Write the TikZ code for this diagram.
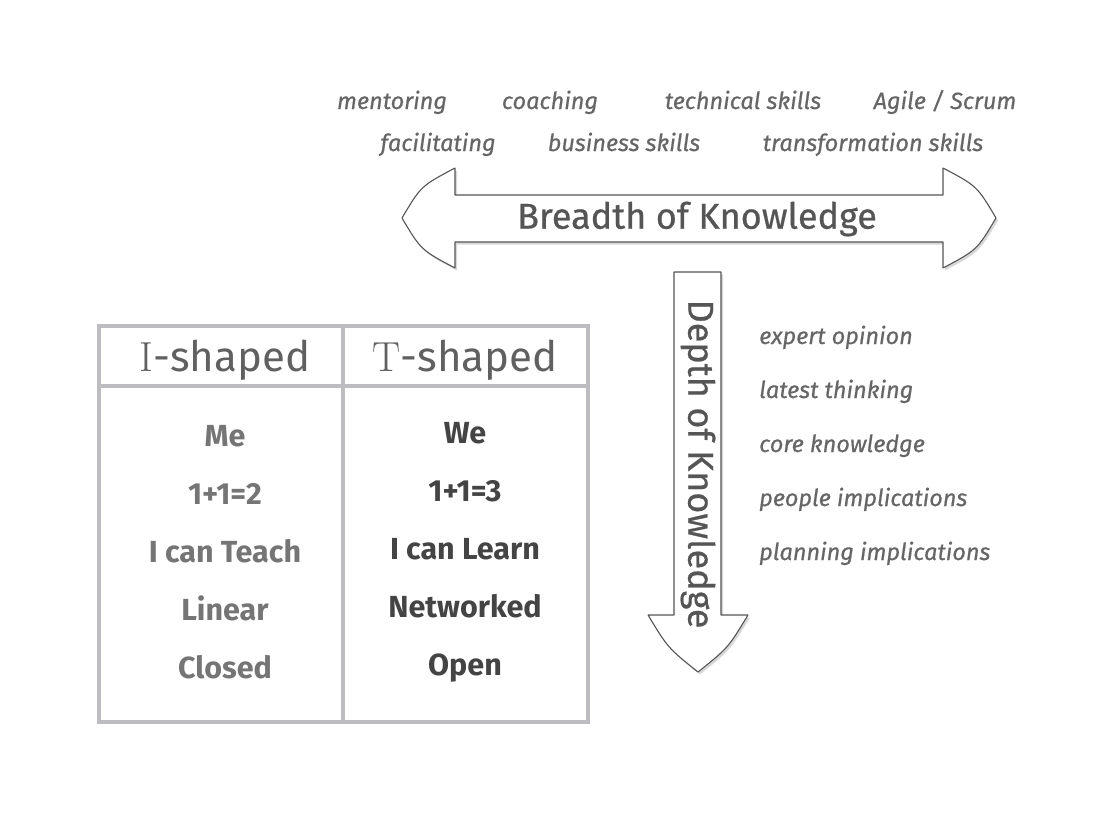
\documentclass[tikz,border=0pt]{standalone}
\usepackage{fontspec}
\newfontfamily\fira{Fira Sans}
\newfontfamily\firamed[FakeBold=0.6]{Fira Sans}
\usetikzlibrary{shadows}
\definecolor{txt}{HTML}{666666}
\definecolor{dark}{HTML}{444444}
\definecolor{tbl}{HTML}{BDBDC1}
\definecolor{arr}{HTML}{555555}
\tikzset{
  topword/.style={font=\firamed\itshape\fontsize{23.5}{27}\selectfont, text=txt, inner sep=0pt, anchor=base},
  sideword/.style={font=\firamed\itshape\fontsize{23.5}{27}\selectfont, text=txt, inner sep=0pt, anchor=base west},
  arrowlabel/.style={font=\firamed\fontsize{36}{40}\selectfont, text=arr, inner sep=0pt},
  leftcell/.style={font=\fira\bfseries\fontsize{30.5}{34}\selectfont, text=txt!90, inner sep=0pt, anchor=base},
  rightcell/.style={font=\fira\bfseries\fontsize{30.5}{34}\selectfont, text=dark, inner sep=0pt, anchor=base},
  header/.style={font=\fontsize{42}{46}\selectfont, text=dark!85, inner sep=0pt, anchor=base},
  bigarrow/.style={draw=arr, line width=1.1pt, fill=white, line join=round,
    drop shadow={opacity=0.3, shadow xshift=2pt, shadow yshift=-2.5pt}},
  tableline/.style={draw=tbl, line width=4pt}
}
\begin{document}
\begin{tikzpicture}[x=1pt,y=-1pt]
\useasboundingbox[fill=white] (0,0) rectangle (1110,816);

% top words
\node[topword] (w1) at (392,109) {mentoring};
\node[topword] (w2) at (550,109) {coaching};
\node[topword] (w3) at (743,109) {technical skills};
\node[topword] (w4) at (945,109) {Agile / Scrum};
\node[topword] (w5) at (438,151) {facilitating};
\node[topword] (w6) at (624,151) {business skills};
\node[topword] (w7) at (873,151) {transformation skills};

% breadth arrow
\path[bigarrow] (455,195) -- (455,168) .. controls (421,186) .. (402,218)
  .. controls (421,250) .. (455,268) -- (455,242) -- (943,242) -- (943,268)
  .. controls (977,250) .. (996,218) .. controls (977,186) .. (943,168)
  -- (943,195) -- cycle;
\node[arrowlabel] (breadth) at (697,219) {Breadth of Knowledge};

% depth arrow
\path[bigarrow] (674,272) -- (721,272) -- (721,615) -- (748,615)
  .. controls (728,648) .. (698,672) .. controls (668,648) .. (648,615)
  -- (674,615) -- cycle;
\node[arrowlabel, rotate=-90] (depth) at (698,464) {Depth of Knowledge};

% side words
\node[sideword] (s1) at (759,344) {expert opinion};
\node[sideword] (s2) at (759,398) {latest thinking};
\node[sideword] (s3) at (759,452) {core knowledge};
\node[sideword] (s4) at (759,506) {people implications};
\node[sideword] (s5) at (759,560) {planning implications};

% table
\draw[tableline] (99,326) rectangle (588,722);
\draw[tableline] (343,326) -- (343,722);
\draw[tableline] (99,386) -- (588,386);

\node[header] (h1) at (225,371) {I{\fira -shaped}};
\node[header] (h2) at (465,371) {T{\fira -shaped}};

\node[leftcell] (l1) at (225,446) {Me};
\node[leftcell] (l2) at (225,504) {1+1=2};
\node[leftcell] (l3) at (225,562) {I can Teach};
\node[leftcell] (l4) at (225,620) {Linear};
\node[leftcell] (l5) at (225,678) {Closed};

\node[rightcell] (r1) at (465,443) {We};
\node[rightcell] (r2) at (465,501) {1+1=3};
\node[rightcell] (r3) at (465,559) {I can Learn};
\node[rightcell] (r4) at (465,617) {Networked};
\node[rightcell] (r5) at (465,675) {Open};
\end{tikzpicture}
\end{document}
